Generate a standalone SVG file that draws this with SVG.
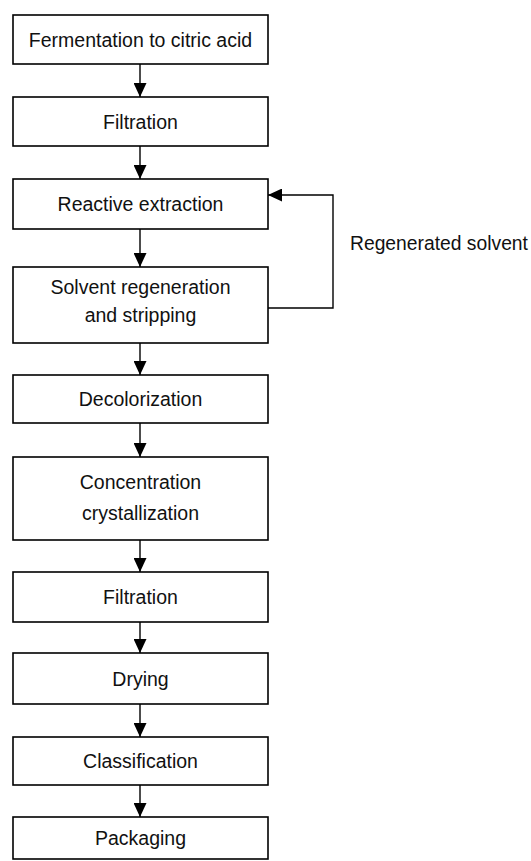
<svg xmlns="http://www.w3.org/2000/svg" width="531" height="861" viewBox="0 0 531 861">
<style>
.box{fill:#fff;stroke:#000;stroke-width:1.6}
.lbl{font-family:"Liberation Sans",Arial,sans-serif;font-size:19.5px;fill:#111;text-anchor:middle}
.side{font-family:"Liberation Sans",Arial,sans-serif;font-size:19.3px;fill:#111}
.con{fill:none;stroke:#000;stroke-width:1.4}
</style>
<defs>
<marker id="ah" viewBox="0 0 14 13" refX="14" refY="6.5" markerWidth="14" markerHeight="13" markerUnits="userSpaceOnUse" orient="auto">
<path d="M0,0 L14,6.5 L0,13 Z" fill="#000"/>
</marker>
</defs>
<rect width="531" height="861" fill="#fff"/>
<g id="connectors">
<line class="con" x1="140" y1="64" x2="140" y2="97" marker-end="url(#ah)"/>
<line class="con" x1="140" y1="146" x2="140" y2="179" marker-end="url(#ah)"/>
<line class="con" x1="140" y1="229" x2="140" y2="267" marker-end="url(#ah)"/>
<line class="con" x1="140" y1="343" x2="140" y2="375" marker-end="url(#ah)"/>
<line class="con" x1="140" y1="423" x2="140" y2="457" marker-end="url(#ah)"/>
<line class="con" x1="140" y1="540" x2="140" y2="572" marker-end="url(#ah)"/>
<line class="con" x1="140" y1="622" x2="140" y2="653" marker-end="url(#ah)"/>
<line class="con" x1="140" y1="704" x2="140" y2="737" marker-end="url(#ah)"/>
<line class="con" x1="140" y1="785" x2="140" y2="817" marker-end="url(#ah)"/>
<polyline class="con" points="268,308 333,308 333,195 268,195" marker-end="url(#ah)"/>
<text class="side" x="350" y="250">Regenerated solvent</text>
</g>
<g id="n1"><rect class="box" x="13" y="15" width="255" height="49"/><text class="lbl" x="140.5" y="47">Fermentation to citric acid</text></g>
<g id="n2"><rect class="box" x="13" y="97" width="255" height="49"/><text class="lbl" x="140.5" y="128.5">Filtration</text></g>
<g id="n3"><rect class="box" x="13" y="179" width="255" height="50"/><text class="lbl" x="140.5" y="211">Reactive extraction</text></g>
<g id="n4"><rect class="box" x="13" y="267" width="255" height="76"/><text class="lbl" x="140.5" y="294">Solvent regeneration</text><text class="lbl" x="140.5" y="322">and stripping</text></g>
<g id="n5"><rect class="box" x="13" y="375" width="255" height="48"/><text class="lbl" x="140.5" y="406">Decolorization</text></g>
<g id="n6"><rect class="box" x="13" y="457" width="255" height="83"/><text class="lbl" x="140.5" y="488.5">Concentration</text><text class="lbl" x="140.5" y="519.5">crystallization</text></g>
<g id="n7"><rect class="box" x="13" y="572" width="255" height="50"/><text class="lbl" x="140.5" y="604">Filtration</text></g>
<g id="n8"><rect class="box" x="13" y="653" width="255" height="51"/><text class="lbl" x="140.5" y="685.5">Drying</text></g>
<g id="n9"><rect class="box" x="13" y="737" width="255" height="48"/><text class="lbl" x="140.5" y="768">Classification</text></g>
<g id="n10"><rect class="box" x="13" y="817" width="255" height="42"/><text class="lbl" x="140.5" y="845">Packaging</text></g>
</svg>
